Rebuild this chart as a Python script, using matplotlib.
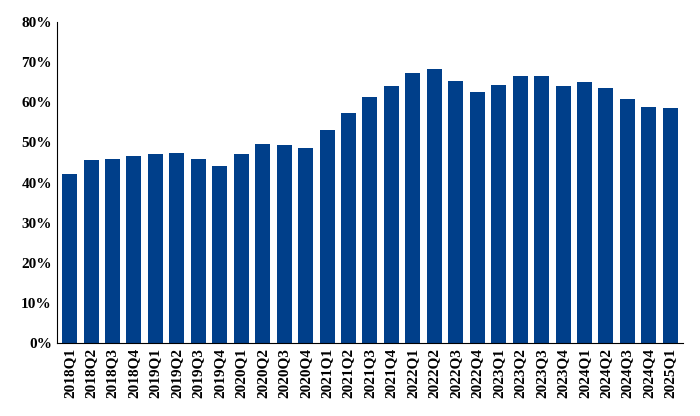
import matplotlib
matplotlib.use("Agg")
import matplotlib.pyplot as plt
from matplotlib.ticker import FuncFormatter

quarters = ["2018Q1","2018Q2","2018Q3","2018Q4","2019Q1","2019Q2","2019Q3","2019Q4",
            "2020Q1","2020Q2","2020Q3","2020Q4","2021Q1","2021Q2","2021Q3","2021Q4",
            "2022Q1","2022Q2","2022Q3","2022Q4","2023Q1","2023Q2","2023Q3","2023Q4",
            "2024Q1","2024Q2","2024Q3","2024Q4","2025Q1"]
values = [42.1,45.6,45.9,46.6,47.1,47.4,45.9,44.1,
          47.1,49.6,49.4,48.6,53.1,57.4,61.3,64.1,
          67.3,68.3,65.3,62.6,64.3,66.6,66.6,64.1,
          65.1,63.6,60.8,58.9,58.6]

plt.rcParams['font.family'] = ['Liberation Serif', 'DejaVu Serif']
fig = plt.figure(figsize=(7, 4.16), dpi=100)
ax = fig.add_axes([0.081, 0.175, 0.895, 0.772])
ax.bar(range(len(values)), values, width=0.7, color='#003f8a')
ax.set_ylim(0, 80)
ax.set_xlim(-0.6, len(values) - 0.4)
ax.set_yticks(range(0, 81, 10))
ax.yaxis.set_major_formatter(FuncFormatter(lambda v, p: f"{int(v)}%"))
ax.set_xticks(range(len(values)))
ax.set_xticklabels(quarters, rotation=90)
for lab in ax.get_xticklabels() + ax.get_yticklabels():
    lab.set_fontweight('bold')
    lab.set_fontsize(11)
ax.spines['top'].set_visible(False)
ax.spines['right'].set_visible(False)
ax.tick_params(axis='x', length=0)
ax.tick_params(axis='y', length=0)
fig.savefig("out.png", dpi=100)
